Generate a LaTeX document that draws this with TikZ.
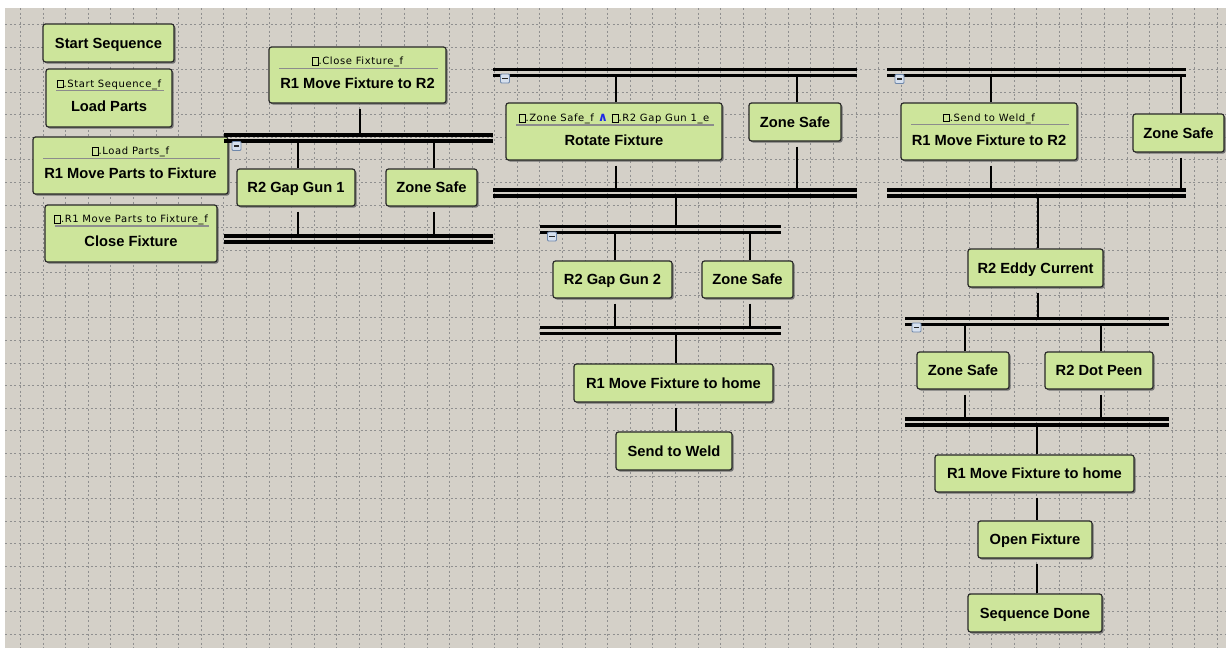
\documentclass[tikz,border=0pt]{standalone}
\usepackage{fontspec}
\setmainfont{Liberation Sans}
\newfontfamily\smallf[LetterSpace=6]{DejaVu Sans}
\newfontfamily\dejavu{DejaVu Sans}
\usetikzlibrary{calc,shadows}
\definecolor{bgc}{RGB}{212,208,200}
\definecolor{boxg}{RGB}{205,229,155}
\definecolor{boxline}{RGB}{40,40,40}
\definecolor{sepg}{RGB}{140,140,140}
\definecolor{wedgeblue}{RGB}{30,40,230}
\definecolor{iconfill}{RGB}{214,224,238}
\definecolor{iconborder}{RGB}{110,135,170}
\newcommand\sqbox{{\setlength{\fboxsep}{0pt}\setlength{\fboxrule}{0.9pt}\fbox{\rule{0pt}{6.6pt}\hspace{5pt}}}}
\newcommand\andsym{\textcolor{wedgeblue}{\dejavu\bfseries\fontsize{12.5pt}{12pt}\selectfont ∧}}
\tikzset{
  box/.style={draw=boxline, fill=boxg, line width=1.2pt, rounded corners=2.5pt, inner sep=0pt,
    drop shadow={shadow xshift=1.6pt, shadow yshift=-1.6pt, fill=black!55, opacity=1}},
  mainlbl/.style={inner sep=0pt, font=\bfseries\fontsize{14.7pt}{17pt}\selectfont, text height=10.5pt, text depth=0pt},
  smalllbl/.style={inner sep=0pt, font=\smallf\fontsize{10pt}{12pt}\selectfont, text height=7.2pt, text depth=0pt},
  sepline/.style={draw=sepg, line width=1.4pt},
  conn/.style={draw=black, line width=2pt},
  barline/.style={draw=black, line width=3.3pt},
  gridline/.style={draw=black!44, line width=0.7pt, dash pattern=on 2.4pt off 2.1pt},
  minusicon/.style={draw=iconborder, fill=iconfill, rounded corners=1pt, minimum size=9pt, inner sep=0pt, line width=0.8pt,
    path picture={\draw[black!85, line width=1.3pt] ([xshift=-2.6pt]path picture bounding box.center) -- ([xshift=2.6pt]path picture bounding box.center);}}
}
% two-part box: name, cx, cy, w, h, sep y, small text, main text
\newcommand\twobox[8]{%
  \node[box, minimum width=#4pt, minimum height=#5pt] (#1) at (#2,#3) {};
  \node[smalllbl] (#1-small) at (#2,#6-7.1) {#7};
  \draw[sepline] (#2-#4/2+10,#6) -- (#2+#4/2-8,#6);
  \node[mainlbl] (#1-main) at (#2,#6+15.3) {#8};
}
\newcommand\simplebox[6]{%
  \node[box, mainlbl, minimum width=#4pt, minimum height=#5pt] (#1) at (#2,#3) {#6};
}
% double bar: name, x1, x2, y
\newcommand\dbar[4]{%
  \draw[barline] (#2,#4) -- (#3,#4);
  \draw[barline] (#2,#4+6) -- (#3,#4+6);
  \coordinate (#1-t) at (#2,#4);
  \coordinate (#1-b) at (#2,#4+6);
}
\newcommand\vdown[2]{\path ($(#1.south)+(2,5)$) coordinate (#1-s); \draw[conn] (#1-s) -- (#1-s |- #2);}
\newcommand\vup[2]{\path ($(#1.north)+(2,0)$) coordinate (#1-n); \draw[conn] (#1-n) -- (#1-n |- #2);}
\begin{document}
\begin{tikzpicture}[x=1pt,y=-1pt]
\useasboundingbox (0,0) rectangle (1226,648);
\fill[white] (0,0) rectangle (1226,648);
\fill[bgc] (5,8) rectangle (1226,648);
\begin{scope}
  \clip (5,8) rectangle (1226,648);
  \foreach \i in {0,...,53} {\draw[gridline] (20.5+22.58*\i,8) -- (20.5+22.58*\i,648);}
  \foreach \j in {0,...,27} {\draw[gridline] (5,24.3+22.58*\j) -- (1226,24.3+22.58*\j);}
\end{scope}

% left column
\simplebox{start}{108.5}{43}{131}{38}{Start Sequence}
\twobox{load}{109}{98}{126}{58}{90.7}{\sqbox.Start Sequence\_f}{Load Parts}
\twobox{r1parts}{130.5}{165.5}{195}{57}{158.3}{\sqbox.Load Parts\_f}{R1 Move Parts to Fixture}
\twobox{close}{131}{233.5}{172}{57}{226}{\sqbox.R1 Move Parts to Fixture\_f}{Close Fixture}

% first parallel
\twobox{r1fix1}{357.5}{75}{177}{56}{68.3}{\sqbox.Close Fixture\_f}{R1 Move Fixture to R2}
\simplebox{gap1}{296}{187.5}{118}{37}{R2 Gap Gun 1}
\simplebox{zs1}{431.5}{187.5}{91}{37}{Zone Safe}

% second column
\twobox{rotate}{614}{131.5}{216}{57}{125}{\sqbox.Zone Safe\_f \andsym{} \sqbox.R2 Gap Gun 1\_e}{Rotate Fixture}
\simplebox{zs2}{795}{122}{92}{38}{Zone Safe}
\simplebox{gap2}{612.5}{279.5}{119}{37}{R2 Gap Gun 2}
\simplebox{zs3}{747.5}{279.5}{91}{37}{Zone Safe}
\simplebox{home1}{673.5}{383}{199}{38}{R1 Move Fixture to home}
\simplebox{weld}{674}{451}{116}{38}{Send to Weld}

% third column
\twobox{r1fix2}{989}{131.5}{176}{57}{124.5}{\sqbox.Send to Weld\_f}{R1 Move Fixture to R2}
\simplebox{zs4}{1178.5}{133}{91}{38}{Zone Safe}
\simplebox{eddy}{1035.5}{268}{135}{38}{R2 Eddy Current}
\simplebox{zs5}{963}{370.5}{92}{37}{Zone Safe}
\simplebox{peen}{1099}{370.5}{108}{37}{R2 Dot Peen}
\simplebox{home2}{1034.5}{473.5}{199}{37}{R1 Move Fixture to home}
\simplebox{open}{1035}{539.5}{114}{37}{Open Fixture}
\simplebox{done}{1035}{613}{134}{38}{Sequence Done}

% bars
\dbar{A}{224}{493}{135}
\dbar{Ab}{224}{493}{236}
\dbar{B}{493}{857}{69.5}
\dbar{Bb}{493}{857}{190}
\dbar{C}{540}{781}{226.8}
\dbar{Cb}{540}{781}{327.3}
\dbar{D}{887}{1186}{69.5}
\dbar{Db}{887}{1186}{190}
\dbar{E}{905}{1169}{318.3}
\dbar{Eb}{905}{1169}{419}

% connectors
\vdown{r1fix1}{A-t}
\vup{gap1}{A-b} \vup{zs1}{A-b}
\vdown{gap1}{Ab-t} \vdown{zs1}{Ab-t}

\vup{rotate}{B-b} \vup{zs2}{B-b}
\vdown{rotate}{Bb-t} \vdown{zs2}{Bb-t}
\vup{home1}{Cb-b}
\draw[conn] (home1-n |- Bb-b) -- (home1-n |- C-t);
\vup{gap2}{C-b} \vup{zs3}{C-b}
\vdown{gap2}{Cb-t} \vdown{zs3}{Cb-t}
\vdown{home1}{weld.north}

\vup{r1fix2}{D-b} \vup{zs4}{D-b}
\vdown{r1fix2}{Db-t} \vdown{zs4}{Db-t}
\vup{eddy}{Db-b}
\vdown{eddy}{E-t}
\vup{zs5}{E-b} \vup{peen}{E-b}
\vdown{zs5}{Eb-t} \vdown{peen}{Eb-t}
\vup{home2}{Eb-b}
\vdown{home2}{open.north}
\vdown{open}{done.north}

% collapse icons
\node[minusicon] (icA) at (236.5,146) {};
\node[minusicon] (icB) at (505,78.5) {};
\node[minusicon] (icC) at (552,236.5) {};
\node[minusicon] (icD) at (899.5,79) {};
\node[minusicon] (icE) at (916.5,327.5) {};
\end{tikzpicture}
\end{document}
